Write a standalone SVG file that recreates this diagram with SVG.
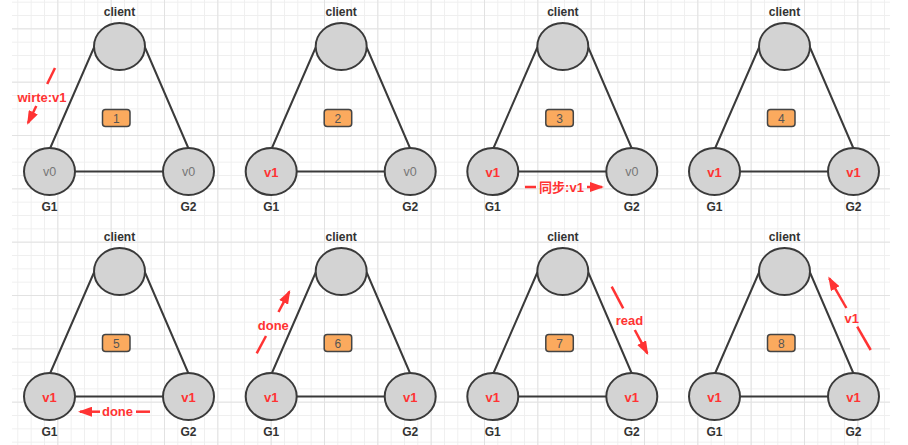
<svg xmlns="http://www.w3.org/2000/svg" width="908" height="445" viewBox="0 0 908 445">
<style>
.node ellipse{fill:#d3d3d3;stroke:#3a3a3a;stroke-width:2}
.edge{stroke:#3a3a3a;stroke-width:2;fill:none}
.lbl{font-family:"Liberation Sans",Arial,sans-serif;font-size:12px;font-weight:bold;fill:#333;text-anchor:middle}
.v0{font-family:"Liberation Sans",Arial,sans-serif;font-size:12.5px;fill:#777;text-anchor:middle}
.v1{font-family:"Liberation Sans",Arial,sans-serif;font-size:13px;font-weight:bold;fill:#ff3333;text-anchor:middle}
.badge rect{fill:#fbaa5e;stroke:#444;stroke-width:1.5}
.badge text{font-family:"Liberation Sans",Arial,sans-serif;font-size:12px;fill:#555;text-anchor:middle}
.red{stroke:#ff3333;stroke-width:2.5;fill:none}
.arr{stroke:#ff3333;stroke-width:2.5;fill:none;marker-end:url(#ah)}
.rtxt{font-family:"Liberation Sans","Noto Sans CJK SC",Arial,sans-serif;font-size:13px;font-weight:bold;fill:#ff3333;text-anchor:middle}
</style>
<defs>
<pattern id="gmin" x="4" y="1.7" width="13.333" height="13.333" patternUnits="userSpaceOnUse">
<path d="M0.5,0V13.333M0,0.5H13.333" stroke="#efefef" stroke-width="1" fill="none"/>
</pattern>
<pattern id="gmaj" x="4" y="-25" width="53.333" height="53.333" patternUnits="userSpaceOnUse">
<path d="M0.5,0V53.333M0,0.5H53.333" stroke="#e2e2e2" stroke-width="1" fill="none"/>
</pattern>
<marker id="ah" markerUnits="userSpaceOnUse" markerWidth="14" markerHeight="10" refX="12" refY="5" orient="auto">
<path d="M0,0 L14,5 L0,10 z" fill="#ff3333"/>
</marker>
</defs>
<rect width="908" height="445" fill="#fff"/>
<rect x="12" y="0" width="878" height="445" fill="url(#gmin)"/>
<rect x="12" y="0" width="878" height="445" fill="url(#gmaj)"/>

<g id="connectors">
<g transform="translate(0,0)"><path class="edge" d="M94,47.5L50,148.5M145,47.5L188.5,148.5M75,171.5H163"/></g>
<g transform="translate(221.7,0)"><path class="edge" d="M94,47.5L50,148.5M145,47.5L188.5,148.5M75,171.5H163"/></g>
<g transform="translate(443.3,0)"><path class="edge" d="M94,47.5L50,148.5M145,47.5L188.5,148.5M75,171.5H163"/></g>
<g transform="translate(665,0)"><path class="edge" d="M94,47.5L50,148.5M145,47.5L188.5,148.5M75,171.5H163"/></g>
<g transform="translate(0,225)"><path class="edge" d="M94,47.5L50,148.5M145,47.5L188.5,148.5M75,171.5H163"/></g>
<g transform="translate(221.7,225)"><path class="edge" d="M94,47.5L50,148.5M145,47.5L188.5,148.5M75,171.5H163"/></g>
<g transform="translate(443.3,225)"><path class="edge" d="M94,47.5L50,148.5M145,47.5L188.5,148.5M75,171.5H163"/></g>
<g transform="translate(665,225)"><path class="edge" d="M94,47.5L50,148.5M145,47.5L188.5,148.5M75,171.5H163"/></g>
</g>

<g id="panel1" transform="translate(0,0)">
<g id="p1-client" class="node"><ellipse cx="119.5" cy="46.5" rx="25.5" ry="23.5"/><text class="lbl" x="119.5" y="16">client</text></g>
<g id="p1-g1" class="node"><ellipse cx="49.5" cy="171.5" rx="25.5" ry="23.5"/><text class="v0" x="49.5" y="176">v0</text><text class="lbl" x="49.5" y="210.5">G1</text></g>
<g id="p1-g2" class="node"><ellipse cx="188.5" cy="171.5" rx="25.5" ry="23.5"/><text class="v0" x="188.5" y="176">v0</text><text class="lbl" x="188.5" y="210.5">G2</text></g>
<g id="p1-badge" class="badge"><rect x="102.5" y="109.5" width="27.5" height="17" rx="3"/><text x="116.25" y="122.5">1</text></g>
</g>
<g id="panel2" transform="translate(221.7,0)">
<g id="p2-client" class="node"><ellipse cx="119.5" cy="46.5" rx="25.5" ry="23.5"/><text class="lbl" x="119.5" y="16">client</text></g>
<g id="p2-g1" class="node"><ellipse cx="49.5" cy="171.5" rx="25.5" ry="23.5"/><text class="v1" x="49.5" y="176.5">v1</text><text class="lbl" x="49.5" y="210.5">G1</text></g>
<g id="p2-g2" class="node"><ellipse cx="188.5" cy="171.5" rx="25.5" ry="23.5"/><text class="v0" x="188.5" y="176">v0</text><text class="lbl" x="188.5" y="210.5">G2</text></g>
<g id="p2-badge" class="badge"><rect x="102.5" y="109.5" width="27.5" height="17" rx="3"/><text x="116.25" y="122.5">2</text></g>
</g>
<g id="panel3" transform="translate(443.3,0)">
<g id="p3-client" class="node"><ellipse cx="119.5" cy="46.5" rx="25.5" ry="23.5"/><text class="lbl" x="119.5" y="16">client</text></g>
<g id="p3-g1" class="node"><ellipse cx="49.5" cy="171.5" rx="25.5" ry="23.5"/><text class="v1" x="49.5" y="176.5">v1</text><text class="lbl" x="49.5" y="210.5">G1</text></g>
<g id="p3-g2" class="node"><ellipse cx="188.5" cy="171.5" rx="25.5" ry="23.5"/><text class="v0" x="188.5" y="176">v0</text><text class="lbl" x="188.5" y="210.5">G2</text></g>
<g id="p3-badge" class="badge"><rect x="102.5" y="109.5" width="27.5" height="17" rx="3"/><text x="116.25" y="122.5">3</text></g>
</g>
<g id="panel4" transform="translate(665,0)">
<g id="p4-client" class="node"><ellipse cx="119.5" cy="46.5" rx="25.5" ry="23.5"/><text class="lbl" x="119.5" y="16">client</text></g>
<g id="p4-g1" class="node"><ellipse cx="49.5" cy="171.5" rx="25.5" ry="23.5"/><text class="v1" x="49.5" y="176.5">v1</text><text class="lbl" x="49.5" y="210.5">G1</text></g>
<g id="p4-g2" class="node"><ellipse cx="188.5" cy="171.5" rx="25.5" ry="23.5"/><text class="v1" x="188.5" y="176.5">v1</text><text class="lbl" x="188.5" y="210.5">G2</text></g>
<g id="p4-badge" class="badge"><rect x="102.5" y="109.5" width="27.5" height="17" rx="3"/><text x="116.25" y="122.5">4</text></g>
</g>
<g id="panel5" transform="translate(0,225)">
<g id="p5-client" class="node"><ellipse cx="119.5" cy="46.5" rx="25.5" ry="23.5"/><text class="lbl" x="119.5" y="16">client</text></g>
<g id="p5-g1" class="node"><ellipse cx="49.5" cy="171.5" rx="25.5" ry="23.5"/><text class="v1" x="49.5" y="176.5">v1</text><text class="lbl" x="49.5" y="210.5">G1</text></g>
<g id="p5-g2" class="node"><ellipse cx="188.5" cy="171.5" rx="25.5" ry="23.5"/><text class="v1" x="188.5" y="176.5">v1</text><text class="lbl" x="188.5" y="210.5">G2</text></g>
<g id="p5-badge" class="badge"><rect x="102.5" y="109.5" width="27.5" height="17" rx="3"/><text x="116.25" y="122.5">5</text></g>
</g>
<g id="panel6" transform="translate(221.7,225)">
<g id="p6-client" class="node"><ellipse cx="119.5" cy="46.5" rx="25.5" ry="23.5"/><text class="lbl" x="119.5" y="16">client</text></g>
<g id="p6-g1" class="node"><ellipse cx="49.5" cy="171.5" rx="25.5" ry="23.5"/><text class="v1" x="49.5" y="176.5">v1</text><text class="lbl" x="49.5" y="210.5">G1</text></g>
<g id="p6-g2" class="node"><ellipse cx="188.5" cy="171.5" rx="25.5" ry="23.5"/><text class="v1" x="188.5" y="176.5">v1</text><text class="lbl" x="188.5" y="210.5">G2</text></g>
<g id="p6-badge" class="badge"><rect x="102.5" y="109.5" width="27.5" height="17" rx="3"/><text x="116.25" y="122.5">6</text></g>
</g>
<g id="panel7" transform="translate(443.3,225)">
<g id="p7-client" class="node"><ellipse cx="119.5" cy="46.5" rx="25.5" ry="23.5"/><text class="lbl" x="119.5" y="16">client</text></g>
<g id="p7-g1" class="node"><ellipse cx="49.5" cy="171.5" rx="25.5" ry="23.5"/><text class="v1" x="49.5" y="176.5">v1</text><text class="lbl" x="49.5" y="210.5">G1</text></g>
<g id="p7-g2" class="node"><ellipse cx="188.5" cy="171.5" rx="25.5" ry="23.5"/><text class="v1" x="188.5" y="176.5">v1</text><text class="lbl" x="188.5" y="210.5">G2</text></g>
<g id="p7-badge" class="badge"><rect x="102.5" y="109.5" width="27.5" height="17" rx="3"/><text x="116.25" y="122.5">7</text></g>
</g>
<g id="panel8" transform="translate(665,225)">
<g id="p8-client" class="node"><ellipse cx="119.5" cy="46.5" rx="25.5" ry="23.5"/><text class="lbl" x="119.5" y="16">client</text></g>
<g id="p8-g1" class="node"><ellipse cx="49.5" cy="171.5" rx="25.5" ry="23.5"/><text class="v1" x="49.5" y="176.5">v1</text><text class="lbl" x="49.5" y="210.5">G1</text></g>
<g id="p8-g2" class="node"><ellipse cx="188.5" cy="171.5" rx="25.5" ry="23.5"/><text class="v1" x="188.5" y="176.5">v1</text><text class="lbl" x="188.5" y="210.5">G2</text></g>
<g id="p8-badge" class="badge"><rect x="102.5" y="109.5" width="27.5" height="17" rx="3"/><text x="116.25" y="122.5">8</text></g>
</g>

<g id="annotations">
<g id="a1"><line class="red" x1="55" y1="68" x2="47.2" y2="84"/><text class="rtxt" x="42" y="101.5">wirte:v1</text><line class="arr" x1="36.3" y1="106" x2="28" y2="123"/></g>
<g id="a3"><line class="red" x1="525" y1="187" x2="536" y2="187"/><text class="rtxt" x="561.5" y="191.5">同步:v1</text><line class="arr" x1="587" y1="187" x2="602" y2="187"/></g>
<g id="a5"><line class="arr" x1="100" y1="411.7" x2="80" y2="411.7"/><text class="rtxt" x="117.5" y="416">done</text><line class="red" x1="136" y1="411.7" x2="150" y2="411.7"/></g>
<g id="a6"><line class="red" x1="256.7" y1="353.3" x2="266" y2="336"/><text class="rtxt" x="273.3" y="329.5">done</text><line class="arr" x1="278.5" y1="312" x2="289.3" y2="291.7"/></g>
<g id="a7"><line class="red" x1="611.7" y1="286.7" x2="623.2" y2="308.3"/><text class="rtxt" x="629.5" y="324.5">read</text><line class="arr" x1="634.8" y1="330" x2="647.3" y2="353.3"/></g>
<g id="a8"><line class="red" x1="870.7" y1="350" x2="857.2" y2="326.7"/><text class="rtxt" x="851.7" y="322.8">v1</text><line class="arr" x1="846.4" y1="308" x2="829.3" y2="278.3"/></g>
</g>
</svg>
